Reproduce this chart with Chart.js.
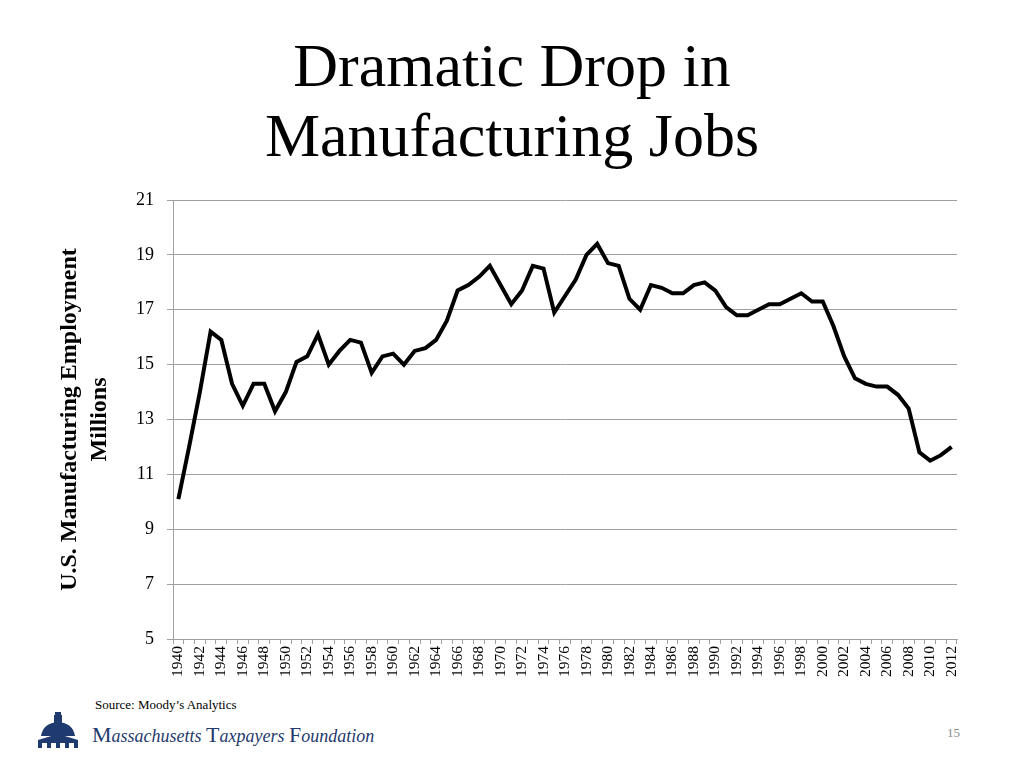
<!DOCTYPE html>
<html>
<head>
<meta charset="utf-8">
<script src="https://cdn.jsdelivr.net/npm/chart.js@4"></script>
<style>
  html, body { margin: 0; padding: 0; background: #fff; }
  body { width: 1024px; height: 768px; position: relative; overflow: hidden; font-family: "Liberation Serif", serif; }
  #title { position: absolute; left: 0; top: 30px; width: 1024px; text-align: center; font-size: 62px; line-height: 70px; color: #000; }
  #chartBox { position: absolute; left: 0; top: 170px; width: 1024px; height: 520px; }
  #source { position: absolute; left: 95px; top: 697px; font-size: 13px; color: #000; }
  #logo { position: absolute; left: 37px; top: 710px; }
  #org { position: absolute; left: 92px; top: 722px; font-size: 18px; color: #1f3a6e; font-style: italic; }
  #org b { font-weight: normal; font-size: 22px; font-style: normal; }
  #page { position: absolute; left: 947px; top: 725px; font-size: 13px; color: #8a8a8a; }
</style>
</head>
<body>
<div id="title">Dramatic Drop in<br>Manufacturing Jobs</div>
<div id="chartBox"><canvas id="jobsChart"></canvas></div>
<div id="source">Source: Moody’s Analytics</div>
<svg id="logo" width="42" height="38" viewBox="0 0 42 38">
  <rect x="18" y="2" width="6" height="3" fill="#1f3a6e"/>
  <rect x="17" y="5" width="8" height="8" fill="#1f3a6e"/>
  <path d="M4 26 Q6 13 21 12 Q36 13 38 26 Z" fill="#1f3a6e"/>
  <path d="M1 30 L21 24 L41 30 L41 33 L1 33 Z" fill="#1f3a6e"/>
  <rect x="1" y="33" width="4" height="5" fill="#1f3a6e"/>
  <rect x="10" y="33" width="4" height="5" fill="#1f3a6e"/>
  <rect x="19" y="33" width="4" height="5" fill="#1f3a6e"/>
  <rect x="28" y="33" width="4" height="5" fill="#1f3a6e"/>
  <rect x="37" y="33" width="4" height="5" fill="#1f3a6e"/>
</svg>
<div id="org"><b>M</b>assachusetts <b>T</b>axpayers <b>F</b>oundation</div>
<div id="page">15</div>
<script>
// years on the x axis
const years = [
  "1940","1941","1942","1943","1944","1945","1946","1947","1948","1949",
  "1950","1951","1952","1953","1954","1955","1956","1957","1958","1959",
  "1960","1961","1962","1963","1964","1965","1966","1967","1968","1969",
  "1970","1971","1972","1973","1974","1975","1976","1977","1978","1979",
  "1980","1981","1982","1983","1984","1985","1986","1987","1988","1989",
  "1990","1991","1992","1993","1994","1995","1996","1997","1998","1999",
  "2000","2001","2002","2003","2004","2005","2006","2007","2008","2009",
  "2010","2011","2012"
];

// U.S. manufacturing employment, millions
const employment = [
  10.1, 12.0, 14.0, 16.2, 15.9, 14.3, 13.5, 14.3, 14.3, 13.3,
  14.0, 15.1, 15.3, 16.1, 15.0, 15.5, 15.9, 15.8, 14.7, 15.3,
  15.4, 15.0, 15.5, 15.6, 15.9, 16.6, 17.7, 17.9, 18.2, 18.6,
  17.9, 17.2, 17.7, 18.6, 18.5, 16.9, 17.5, 18.1, 19.0, 19.4,
  18.7, 18.6, 17.4, 17.0, 17.9, 17.8, 17.6, 17.6, 17.9, 18.0,
  17.7, 17.1, 16.8, 16.8, 17.0, 17.2, 17.2, 17.4, 17.6, 17.3,
  17.3, 16.4, 15.3, 14.5, 14.3, 14.2, 14.2, 13.9, 13.4, 11.8,
  11.5, 11.7, 12.0
];

const yMin = 5;
const yMax = 21;
const yStep = 2;

const ctx = document.getElementById("jobsChart").getContext("2d");
new Chart(ctx, {
  type: "line",
  data: {
    labels: years,
    datasets: [
      {
        label: "Manufacturing Employment",
        data: employment,
        borderColor: "#000",
        borderWidth: 4,
        pointRadius: 0,
        tension: 0,
        fill: false,
      },
    ],
  },
  options: {
    responsive: true,
    maintainAspectRatio: false,
    animation: false,
    layout: { padding: { left: 37, right: 67, top: 30, bottom: 11 } },
    plugins: {
      legend: { display: false },
      tooltip: { enabled: false },
    },
    scales: {
      x: {
        offset: true,
        grid: {
          offset: true,
          drawOnChartArea: false,
          color: "#a0a0a0",
          tickLength: 5,
        },
        border: { color: "#a0a0a0" },
        ticks: {
          autoSkip: false,
          minRotation: 90,
          maxRotation: 90,
          padding: 2,
          color: "#000",
          font: { family: "Liberation Serif", size: 15.5 },
          callback: function (value, index) {
            return index % 2 === 0 ? years[index] : "";
          },
        },
      },
      y: {
        min: yMin,
        max: yMax,
        grid: { color: "#a0a0a0", tickLength: 6 },
        border: { color: "#a0a0a0" },
        ticks: {
          stepSize: yStep,
          padding: 13,
          color: "#000",
          font: { family: "Liberation Serif", size: 18 },
        },
        title: {
          display: true,
          text: ["U.S. Manufacturing Employment", "Millions"],
          color: "#000",
          font: { family: "Liberation Serif", size: 24, weight: "bold", lineHeight: 1.25 },
          padding: { top: 18, bottom: 8 },
        },
      },
    },
  },
});
</script>
</body>
</html>
